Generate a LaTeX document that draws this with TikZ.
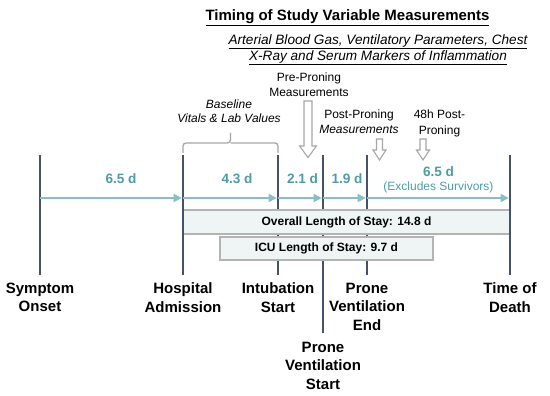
\documentclass[tikz,border=0pt]{standalone}
\usepackage{fontspec}
\setmainfont{Liberation Sans}
\usetikzlibrary{arrows.meta}
\definecolor{slate}{HTML}{44536A}
\definecolor{tealln}{HTML}{86BFC5}
\definecolor{tealtx}{HTML}{4E9CA5}
\definecolor{boxfill}{HTML}{EEF5F4}
\definecolor{boxdraw}{HTML}{B3B3B3}
\definecolor{hollow}{HTML}{A6A6A6}
\tikzset{
  vline/.style={draw=slate, line width=2.6pt},
  tl/.style={draw=tealln, line width=1.8pt, -{Triangle[length=8pt,width=8pt]}, shorten >=1.3pt},
  days/.style={text=tealtx, font=\fontsize{13.6}{16}\selectfont\bfseries, inner sep=0, anchor=base},
  evt/.style={font=\fontsize{15}{18.7}\selectfont\bfseries, align=center, inner sep=0, anchor=north},
  note/.style={font=\fontsize{12}{14.5}\selectfont, align=center, inner sep=0, anchor=north},
  stay/.style={draw=boxdraw, line width=1.5pt, fill=boxfill, font=\fontsize{12}{14}\selectfont\bfseries, inner sep=0},
  hollowarrow/.style={draw=hollow, fill=white, line width=1.1pt, line join=miter},
  bracestyle/.style={draw=hollow, line width=1.3pt, rounded corners=3pt}
}
\begin{document}
\begin{tikzpicture}[x=1pt,y=-1pt]
\useasboundingbox (0,0) rectangle (550,396);
% event coordinates
\coordinate (s-t) at (40,155);   \coordinate (s-b) at (40,275);   \coordinate (s-a) at (40,198);
\coordinate (h-t) at (183,155);  \coordinate (h-b) at (183,275);  \coordinate (h-a) at (183,198);
\coordinate (i-t) at (278,155);  \coordinate (i-b) at (278,275);  \coordinate (i-a) at (278,198);
\coordinate (ps-t) at (323,155); \coordinate (ps-b) at (323,333); \coordinate (ps-a) at (323,198);
\coordinate (pe-t) at (367,155); \coordinate (pe-b) at (367,275); \coordinate (pe-a) at (367,198);
\coordinate (d-t) at (510,155);  \coordinate (d-b) at (510,275);  \coordinate (d-a) at (510,198);

% title
\node[font=\fontsize{15}{18}\selectfont\bfseries, inner sep=0, anchor=north] (title) at (347.5,9.6)
  {\underline{Timing of Study Variable Measurements}};
\node[font=\fontsize{13.6}{16}\selectfont\itshape, align=center, inner sep=0, anchor=north] (sub) at (378,34)
  {\underline{Arterial Blood Gas, Ventilatory Parameters, Chest}\\\underline{X-Ray and Serum Markers of Inflammation}};

% notes
\node[note] (pre) at (309,72.7) {Pre-Proning\\Measurements};
\node[note, font=\fontsize{12}{13.5}\selectfont\itshape] (base) at (229,99.7) {Baseline\\Vitals \& Lab Values};
\node[note] (post) at (359,109.7) {Post-Proning\\\textit{Measurements}};
\node[note, font=\fontsize{12}{15.5}\selectfont] (h48) at (439.5,109.7) {48h Post-\\Proning};

% brace
\draw[bracestyle] (183,153) |- (230.5,143) -- (230.5,133);
\draw[bracestyle] (230.5,143) -| (278,153);

% hollow arrows
\draw[hollowarrow] (304,101) -- (312,101) -- (312,146) -- (316.5,146) -- (308,157.5) -- (299.5,146) -- (304,146) -- cycle;
\draw[hollowarrow] (376.5,139) -- (382.5,139) -- (382.5,150) -- (386,150) -- (379.5,160) -- (373,150) -- (376.5,150) -- cycle;
\draw[hollowarrow] (420,139) -- (426,139) -- (426,150) -- (429.5,150) -- (423,160) -- (416.5,150) -- (420,150) -- cycle;

% inner event lines (behind boxes)
\draw[vline] (i-t) -- (i-b);
\draw[vline] (ps-t) -- (ps-b);
\draw[vline] (pe-t) -- (pe-b);

% stay boxes
\node[stay, minimum width=326pt, minimum height=24pt] (los) at (346.5,222) {Overall Length of Stay: 14.8 d};
\node[stay, minimum width=213pt, minimum height=23pt] (icu) at (326.5,248.5) {ICU Length of Stay: 9.7 d};

% outer event lines
\draw[vline] (s-t) -- (s-b);
\draw[vline] (h-t) -- (h-b);
\draw[vline] (d-t) -- (d-b);

% timeline arrows
\draw[tl] (s-a) -- (h-a);
\draw[tl] (h-a) -- (i-a);
\draw[tl] (i-a) -- (ps-a);
\draw[tl] (ps-a) -- (pe-a);
\draw[tl] (pe-a) -- (d-a);

% durations
\node[days] (d1) at (121,183) {6.5 d};
\node[days] (d2) at (237,183) {4.3 d};
\node[days] (d3) at (302.5,183.5) {2.1 d};
\node[days] (d4) at (347,183.5) {1.9 d};
\node[days] (d5) at (438.5,176) {6.5 d};
\node[text=tealtx, font=\fontsize{12}{14}\selectfont, inner sep=0, anchor=base] (excl) at (438.5,190.3) {(Excludes Survivors)};

% event labels
\node[evt] (l-s) at (40,282.5) {Symptom\\Onset};
\node[evt] (l-h) at (183,282.5) {Hospital\\Admission};
\node[evt] (l-i) at (278,282.5) {Intubation\\Start};
\node[evt] (l-pe) at (367,282.5) {Prone\\Ventilation\\End};
\node[evt] (l-ps) at (323,341.5) {Prone\\Ventilation\\Start};
\node[evt] (l-d) at (510,282.5) {Time of\\Death};
\end{tikzpicture}
\end{document}
